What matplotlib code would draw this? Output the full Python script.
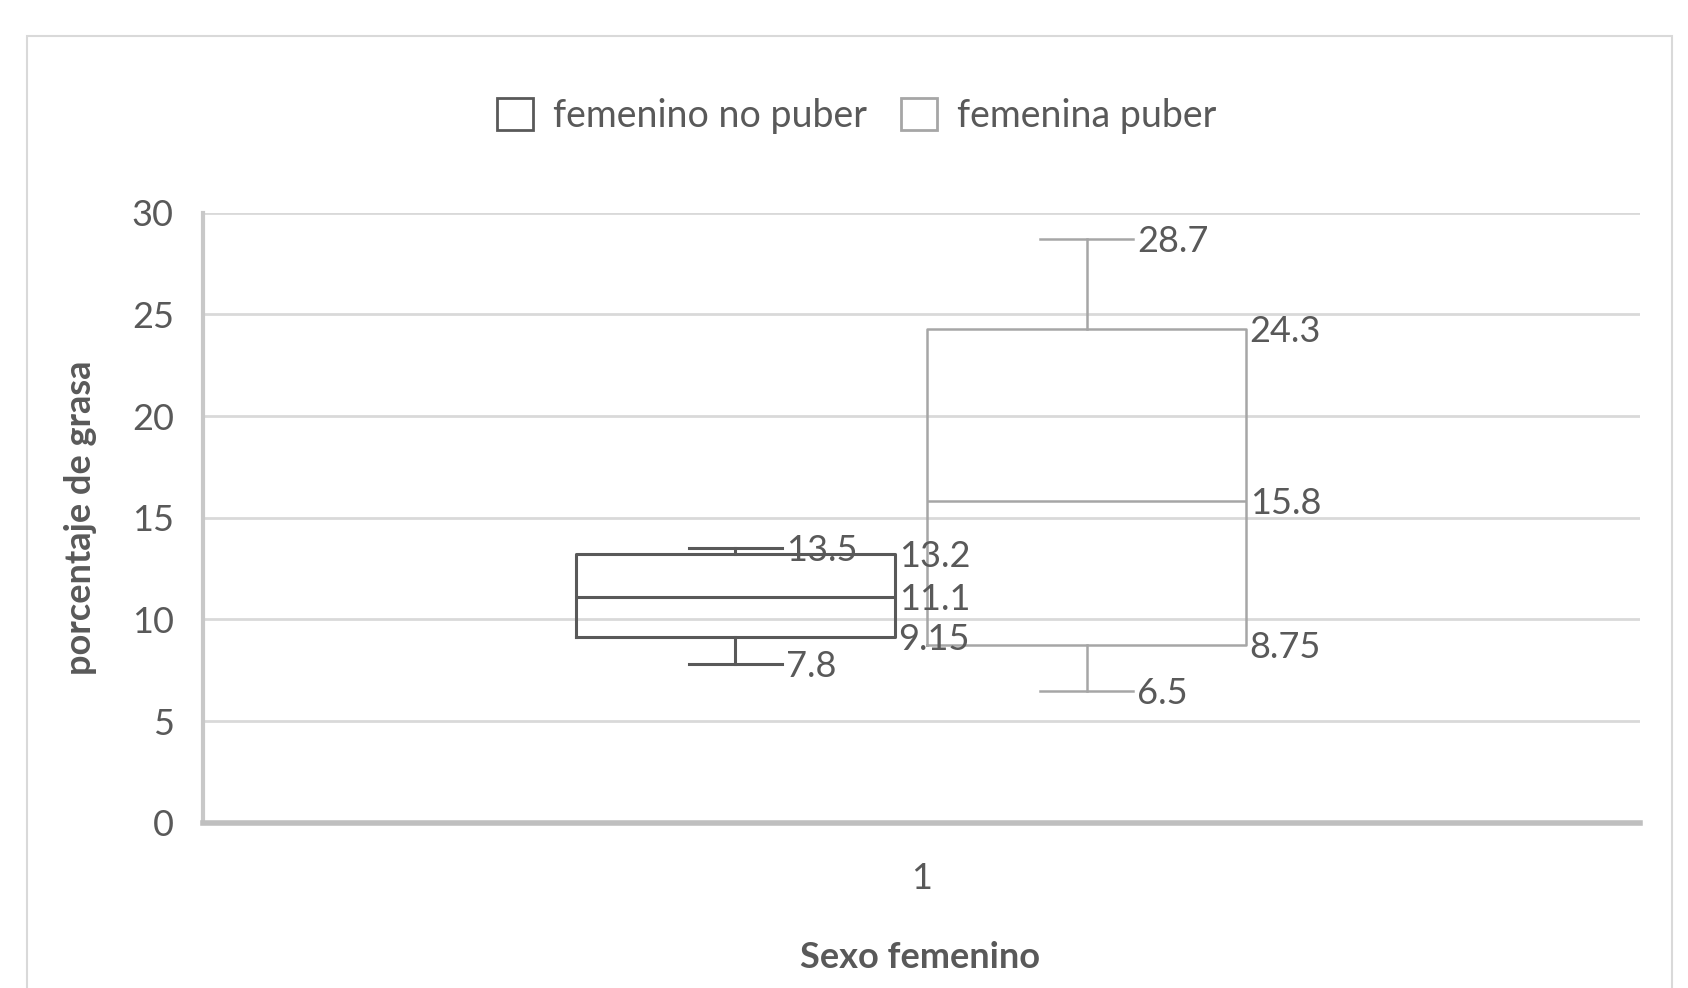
import matplotlib
matplotlib.use('Agg')
import matplotlib.pyplot as plt
from matplotlib.patches import Patch, Rectangle

# ---- data ----
series = ['femenino no puber', 'femenina puber']
category_labels = ['1']
mins = [7.8, 6.5]
q1s = [9.15, 8.75]
medians = [11.1, 15.8]
q3s = [13.2, 24.3]
maxs = [13.5, 28.7]
yticks = [0, 5, 10, 15, 20, 25, 30]

# ---- style ----
plt.rcParams['font.family'] = ['Lato', 'DejaVu Sans']
TXT = '#595959'
colors = ['#595959', '#a6a6a6']
W, H = 1688, 988
FS = 26

fig = plt.figure(figsize=(W / 100, H / 100), dpi=100)
fig.patch.set_facecolor('white')

# chart-area border
fig.patches.append(Rectangle((27 / W, -0.05), (1672 - 27) / W, 1.05 - 35.5 / H,
                             transform=fig.transFigure, fill=False,
                             edgecolor='#d9d9d9', lw=1.5))

ax = fig.add_axes([203 / W, 1 - 822.7 / H, 1437 / W, (822.7 - 212.7) / H])
ax.set_xlim(0, 2)
ax.set_ylim(0, 30)

positions = [0.741, 1.2297]
box_w = 0.443
cap_w = 0.13

for i in range(len(series)):
    st = dict(med=medians[i], q1=q1s[i], q3=q3s[i], whislo=mins[i],
              whishi=maxs[i], fliers=[], label=series[i])
    lw = 2.2 if i == 0 else 1.8
    c = colors[i]
    ax.bxp([st], positions=[positions[i]], widths=box_w, capwidths=cap_w,
           showfliers=False, patch_artist=False,
           boxprops=dict(color=c, lw=lw),
           whiskerprops=dict(color=c, lw=lw),
           capprops=dict(color=c, lw=lw),
           medianprops=dict(color=c, lw=lw),
           manage_ticks=False)
    for v in (q1s[i], medians[i], q3s[i]):
        ax.annotate(f'{v:g}', (positions[i] + box_w / 2, v), xytext=(4, -13),
                    textcoords='offset pixels', ha='left', va='baseline',
                    fontsize=FS, color=TXT, annotation_clip=False)
    for v in (mins[i], maxs[i]):
        ax.annotate(f'{v:g}', (positions[i] + cap_w / 2, v), xytext=(4, -13),
                    textcoords='offset pixels', ha='left', va='baseline',
                    fontsize=FS, color=TXT, annotation_clip=False)

ax.set_yticks(yticks)
ax.set_xticks([1])
ax.set_xticklabels(category_labels)
ax.yaxis.grid(True, color='#d9d9d9', lw=2)
ax.set_axisbelow(True)
for s in ('top', 'right'):
    ax.spines[s].set_visible(False)
ax.spines['left'].set_color('#c8c8c8')
ax.spines['left'].set_linewidth(3)
ax.spines['bottom'].set_color('#bfbfbf')
ax.spines['bottom'].set_linewidth(4)
ax.tick_params(axis='y', length=0, pad=21, labelsize=FS, labelcolor=TXT)
ax.tick_params(axis='x', length=0, pad=28, labelsize=FS, labelcolor=TXT)

fig.text(81 / W, 1 - 518 / H, 'porcentaje de grasa', rotation=90, ha='center',
         va='center', fontsize=26, fontweight='bold', color=TXT)
fig.text(920 / W, 1 - 957 / H, 'Sexo femenino', ha='center', va='center',
         fontsize=26, fontweight='bold', color=TXT)

handles = [Patch(facecolor='white', edgecolor=colors[i], lw=2, label=series[i])
           for i in range(len(series))]
fig.legend(handles=handles, loc='center', bbox_to_anchor=(857 / W, 1 - 116 / H),
           ncol=2, frameon=False, fontsize=27, handlelength=0.95, handleheight=0.95,
           handletextpad=0.55, columnspacing=0.9, labelcolor=TXT)

fig.savefig('out.png', dpi=100)
